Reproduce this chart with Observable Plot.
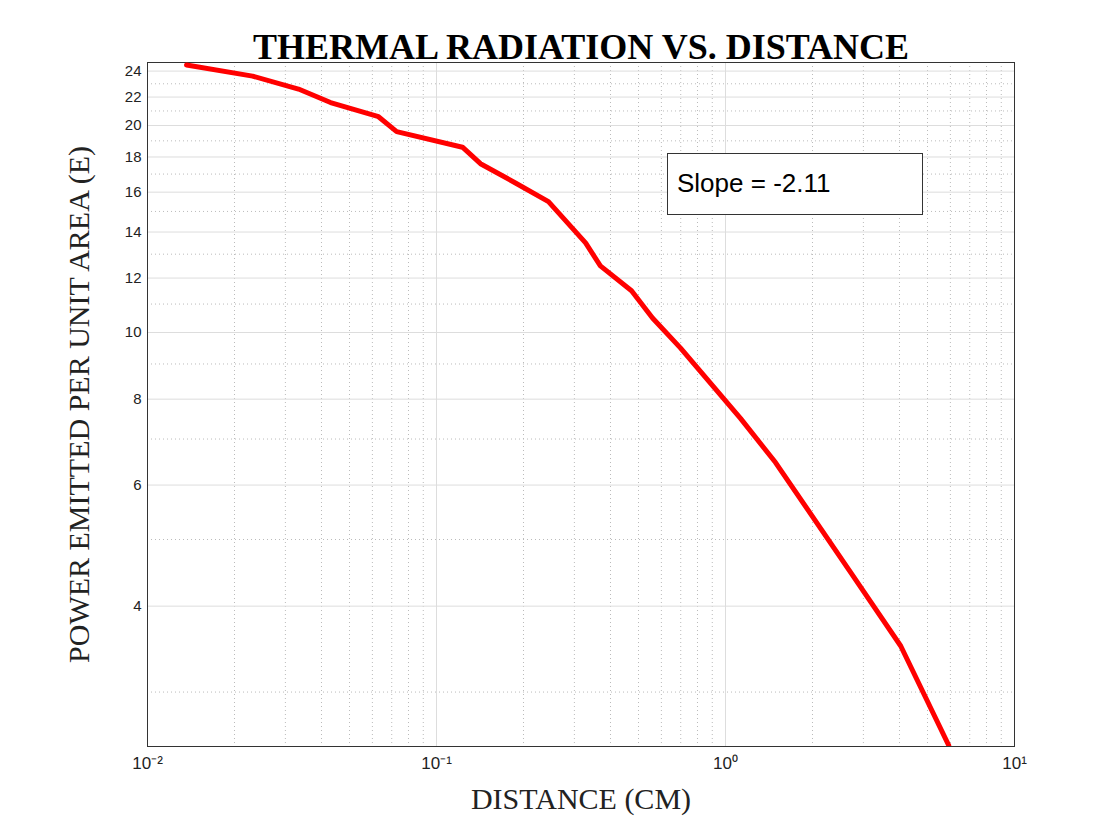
<!DOCTYPE html>
<html><head><meta charset="utf-8">
<script src="https://cdn.jsdelivr.net/npm/d3@7"></script>
<script src="https://cdn.jsdelivr.net/npm/@observablehq/plot@0.6"></script>
<style>
body{margin:0;background:#fff;}
#wrap{position:relative;width:1120px;height:840px;}
#slope{position:absolute;left:667px;top:153px;width:256px;height:62px;border:1px solid #333;background:#fff;
 font:26px "Liberation Sans",Arial,sans-serif;box-sizing:border-box;padding:14px 0 0 9px;}
</style></head><body>
<div id="wrap"><div id="chart"></div><div id="slope">Slope = -2.11</div></div>
<script>
var distance = [0.01365,0.0231,0.0333,0.043,0.063,0.0728,0.123,0.142,0.1876,0.244,0.328,0.369,0.473,0.559,0.698,1.127,1.49,2.71,4.04,5.92];
var power = [24.5,23.6,22.6,21.6,20.6,19.6,18.6,17.6,16.5,15.5,13.5,12.5,11.5,10.5,9.5,7.5,6.47,4.48,3.5,2.51];
var xTicks = [0.01,0.1,1,10];
var xTickLabels = ["10⁻²","10⁻¹","10⁰","10¹"];
var yTicks = [4,6,8,10,12,14,16,18,20,22,24];
var xMinor = [];
[0.01,0.1,1].forEach(function(d){for(var k=2;k<=9;k++) xMinor.push(d*k);});
var yMinor = [3,5,7,9,11,13,15,17,19,21,23];
var data = distance.map(function(d,i){return {x:d,y:power[i]};});

var plot = Plot.plot({
  width:1120, height:840,
  marginLeft:147, marginRight:106, marginTop:62, marginBottom:94,
  style:{fontFamily:"'Liberation Sans',Arial,sans-serif",fontSize:"15px",color:"#222",background:"#fff"},
  x:{type:"log",domain:[0.01,10],label:null},
  y:{type:"log",domain:[2.5,24.7],label:null},
  marks:[
    Plot.ruleX(xMinor,{stroke:"#bbb",strokeDasharray:"1,3"}),
    Plot.ruleY(yMinor,{stroke:"#bbb",strokeDasharray:"1,3"}),
    Plot.ruleX(xTicks,{stroke:"#ddd"}),
    Plot.ruleY(yTicks,{stroke:"#ddd"}),
    Plot.axisX(xTicks,{tickSize:0,tickPadding:10,fontSize:17,tickFormat:function(d){return xTickLabels[xTicks.indexOf(d)];}}),
    Plot.axisY(yTicks,{tickSize:0,tickPadding:6,fontSize:15,tickFormat:function(d){return String(d);}}),
    Plot.frame({stroke:"#333"}),
    Plot.line(data,{x:"x",y:"y",stroke:"#ff0000",strokeWidth:5,clip:true}),
    Plot.text(["THERMAL RADIATION VS. DISTANCE"],{frameAnchor:"top",dy:-29,fontFamily:"'Liberation Serif',serif",fontSize:36,fontWeight:"bold",fill:"#000"}),
    Plot.text(["DISTANCE (CM)"],{frameAnchor:"bottom",dy:62,fontFamily:"'Liberation Serif',serif",fontSize:30,fill:"#222"}),
    Plot.text(["POWER EMITTED PER UNIT AREA (E)"],{frameAnchor:"left",textAnchor:"middle",dx:-68,rotate:-90,fontFamily:"'Liberation Serif',serif",fontSize:30,fill:"#222"})
  ]
});
document.getElementById("chart").append(plot);
</script></body></html>
